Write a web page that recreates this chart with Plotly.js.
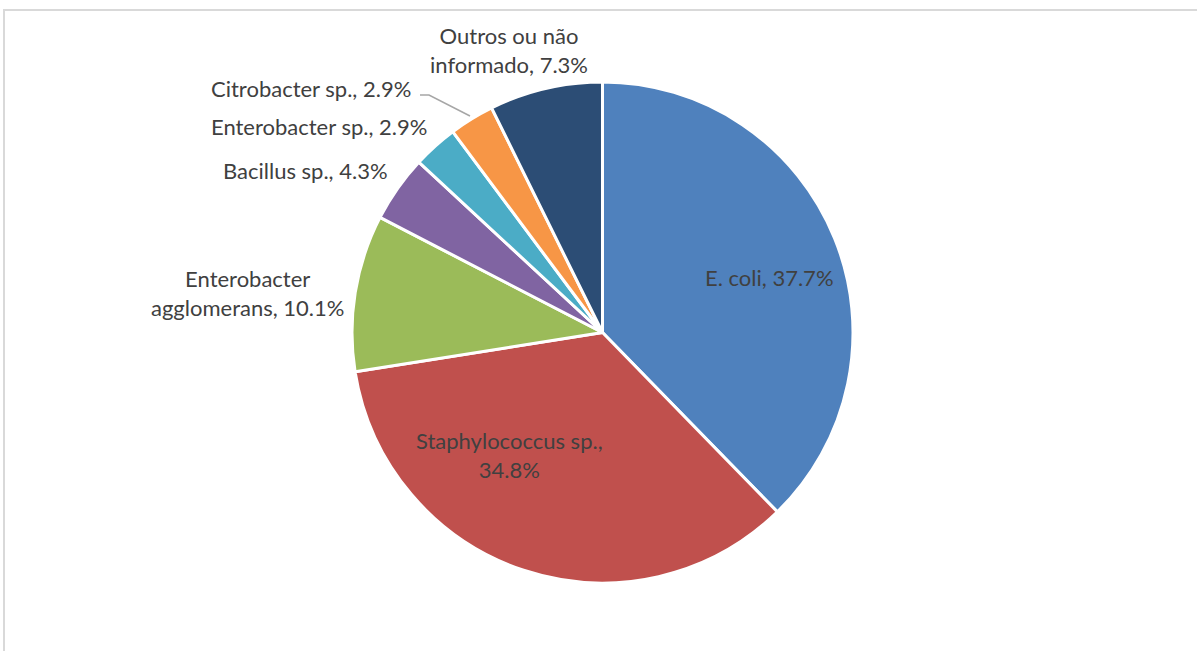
<!DOCTYPE html>
<html>
<head>
<meta charset="utf-8">
<script src="https://cdn.plot.ly/plotly-3.0.1.min.js"></script>
<style>
  html, body { margin: 0; padding: 0; background: #ffffff; overflow: hidden; }
  #frame { position: absolute; left: 3px; top: 9px; width: 1200px; height: 700px;
           border: 2px solid #d9d9d9; box-sizing: border-box; }
  #chart { position: absolute; left: 0; top: 0; width: 1197px; height: 651px; }
</style>
</head>
<body>
<div id="frame"></div>
<div id="chart"></div>
<script>
// Data
const categories = [
  "E. coli",
  "Staphylococcus sp.",
  "Enterobacter agglomerans",
  "Bacillus sp.",
  "Enterobacter sp.",
  "Citrobacter sp.",
  "Outros ou não informado"
];
const percentages = [37.7, 34.8, 10.1, 4.3, 2.9, 2.9, 7.3];
const sliceColors = ["#4f81bd", "#c0504d", "#9bbb59", "#8064a2", "#4bacc6", "#f79646", "#2c4d75"];

// Label line breaks as in the reference
const labelBreaks = [
  null,
  "Staphylococcus sp.,<br>",
  "Enterobacter<br>agglomerans, ",
  null,
  null,
  null,
  "Outros ou não<br>informado, "
];

function labelText(i) {
  const v = percentages[i].toFixed(1) + "%";
  if (labelBreaks[i]) {
    return labelBreaks[i] + v;
  }
  return categories[i] + ", " + v;
}

// Label placement (paper coordinates)
const W = 1197, H = 651;
const labelPos = [
  {px: 769, py: 277, anchor: "center"},
  {px: 509, py: 455, anchor: "center"},
  {px: 247, py: 293, anchor: "center"},
  {px: 390, py: 170, anchor: "right"},
  {px: 429, py: 126, anchor: "right"},
  {px: 413, py: 88,  anchor: "right"},
  {px: 509, py: 50,  anchor: "center"}
];

const fontFamily = "Lato, 'Open Sans', 'Liberation Sans', sans-serif";
const fontColor = "#404040";

const annotations = categories.map((c, i) => ({
  xref: "paper", yref: "paper",
  x: labelPos[i].px / W, y: 1 - labelPos[i].py / H,
  xanchor: labelPos[i].anchor, yanchor: "middle",
  text: labelText(i),
  showarrow: false,
  align: "center",
  font: {family: fontFamily, size: 22, color: fontColor}
}));

const cx = 602.5, cy = 332.5, r = 250.5;

const trace = {
  type: "pie",
  labels: categories,
  values: percentages,
  sort: false,
  direction: "clockwise",
  rotation: 0,
  textinfo: "none",
  hoverinfo: "label+percent",
  marker: {colors: sliceColors, line: {color: "#ffffff", width: 3}},
  domain: {
    x: [(cx - r) / W, (cx + r) / W],
    y: [1 - (cy + r) / H, 1 - (cy - r) / H]
  },
  showlegend: false
};

// leader line for Citrobacter label
const lp = [[420, 95], [429, 95], [470, 116]];
const path = lp.map((p, i) => (i === 0 ? "M " : "L ") + (p[0] / W) + "," + (1 - p[1] / H)).join(" ");

const layout = {
  width: W, height: H,
  margin: {l: 0, r: 0, t: 0, b: 0},
  paper_bgcolor: "rgba(0,0,0,0)",
  plot_bgcolor: "rgba(0,0,0,0)",
  showlegend: false,
  annotations: annotations,
  shapes: [{
    type: "path", xref: "paper", yref: "paper", path: path,
    line: {color: "#a6a6a6", width: 1.5}
  }],
  font: {family: fontFamily, color: fontColor}
};

Plotly.newPlot("chart", [trace], layout, {displayModeBar: false, staticPlot: true});
</script>
</body>
</html>
